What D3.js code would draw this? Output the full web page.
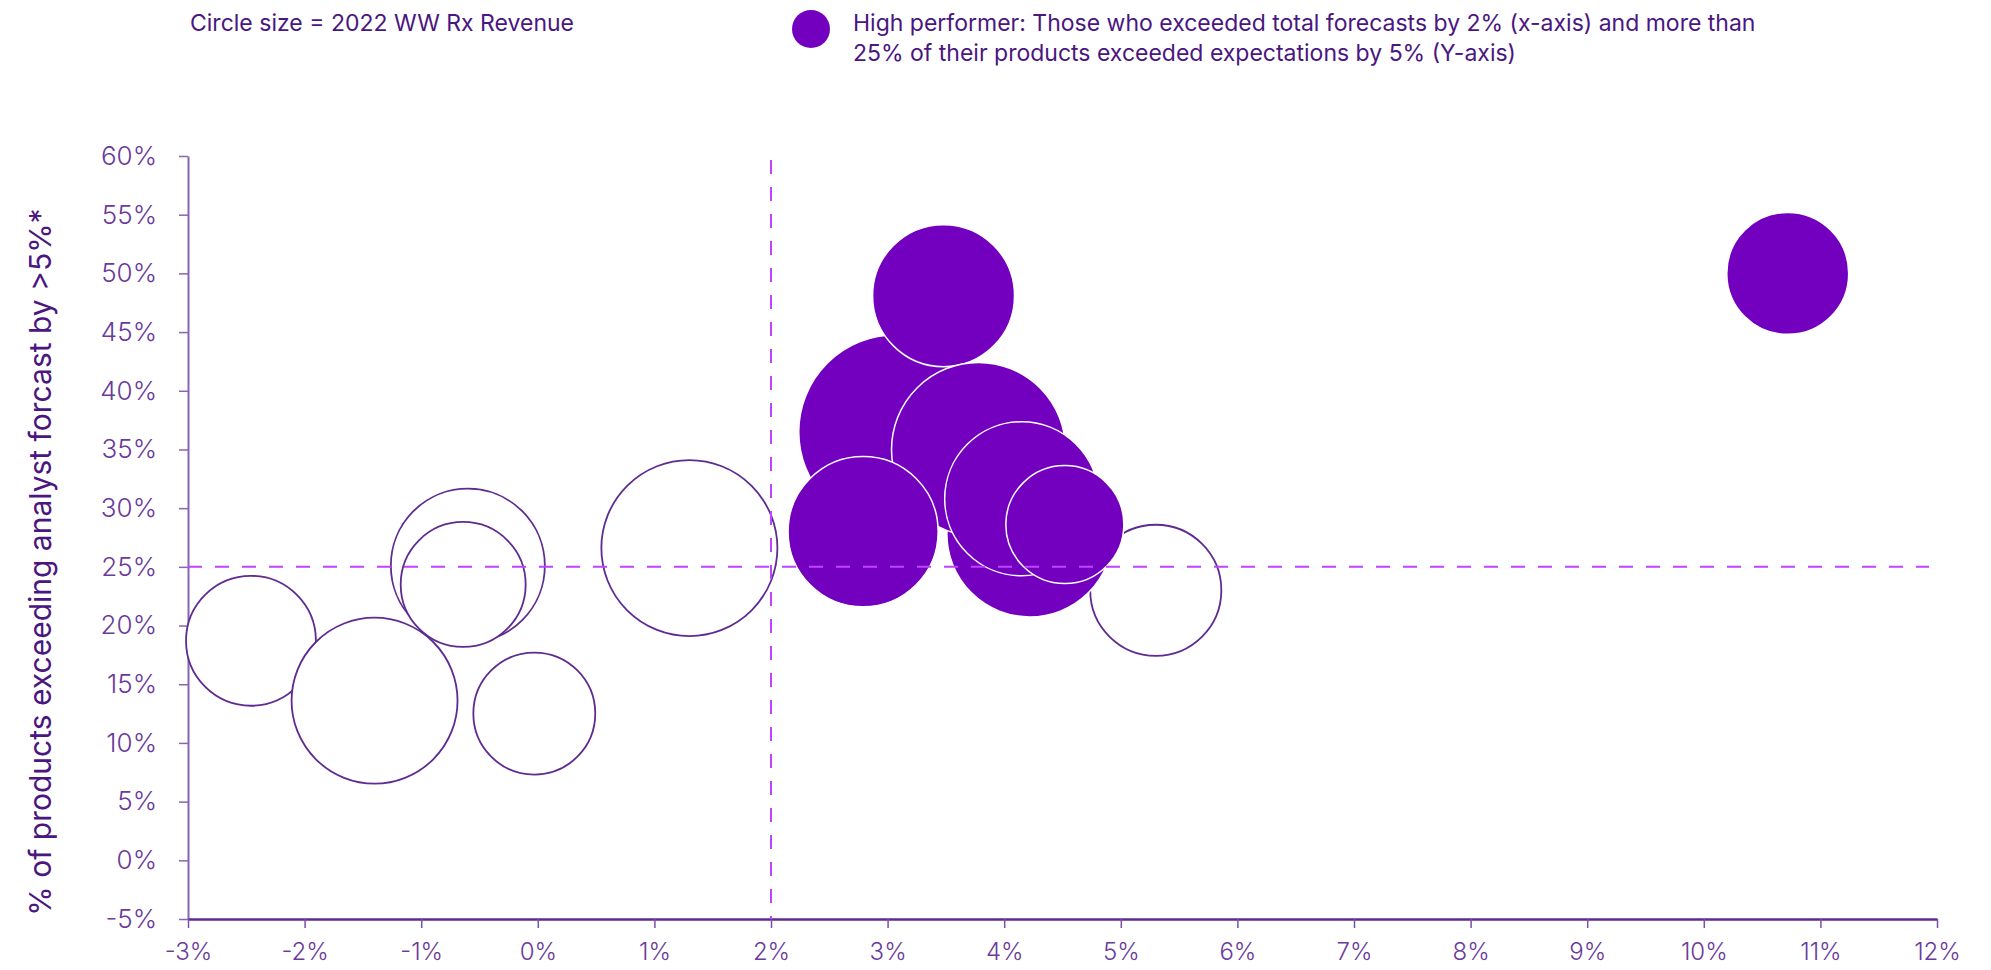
<!DOCTYPE html>
<html>
<head>
<meta charset="utf-8">
<script src="https://cdn.jsdelivr.net/npm/d3@7"></script>
<style>
  body { margin: 0; background: #fff; }
  svg text { font-family: Inter, "Open Sans", sans-serif; }
</style>
</head>
<body>
<div id="chart"></div>
<script>
"use strict";
let width = 1991;
let height = 970;

// data (x = % vs total forecast, y = % of products beating forecast, size = 2022 WW Rx revenue)
let xValues = [-2.46, -1.40, -0.60, -0.64, -0.03, 1.30, 5.30, 3.07, 4.22, 3.48, 3.78, 2.79, 4.15, 4.52, 10.72];
let yValues = [18.7, 13.6, 25.1, 23.5, 12.5, 26.6, 23.0, 36.5, 27.8, 48.1, 35.0, 28.0, 30.8, 28.6, 50.0];
let revenue = [26.9, 43.9, 37.8, 24.9, 23.7, 49.4, 27.4, 60.0, 43.9, 32.1, 48.3, 35.9, 37.8, 22.2, 23.7];
let highPerformer = [false, false, false, false, false, false, false, true, true, true, true, true, true, true, true];

let xTicks = [-3, -2, -1, 0, 1, 2, 3, 4, 5, 6, 7, 8, 9, 10, 11, 12];
let yTicks = [-5, 0, 5, 10, 15, 20, 25, 30, 35, 40, 45, 50, 55, 60];
let xThreshold = 2;
let yThreshold = 25;

let sizeNote = "Circle size = 2022 WW Rx Revenue";
let legendLines = ["High performer: Those who exceeded total forecasts by 2% (x-axis) and more than",
                   "25% of their products exceeded expectations by 5% (Y-axis)"];
let yTitle = "% of products exceeding analyst forcast by >5%*";

let plotLeft = 188, plotRight = 1937, plotTop = 156, plotBottom = 919;

let points = xValues.map(function(d, i) {
    return {x: d, y: yValues[i], rev: revenue[i], high: highPerformer[i]};
});

let xScale = d3.scaleLinear().domain([-3, 12]).range([plotLeft, plotRight]);
let yScale = d3.scaleLinear().domain([-5, 60]).range([plotBottom, plotTop]);
let rScale = d3.scaleSqrt().domain([0, 60]).range([0, 97]);

let svg = d3.select("#chart").append("svg")
    .attr("width", width)
    .attr("height", height);

// header
svg.append("text")
    .attr("x", 190).attr("y", 31)
    .attr("font-size", "23px")
    .attr("fill", "#4a1680")
    .text(sizeNote);

svg.append("circle")
    .attr("cx", 811).attr("cy", 29).attr("r", 19)
    .attr("fill", "#7400bf");

svg.selectAll(".legendLine")
    .data(legendLines)
    .enter()
    .append("text")
    .attr("class", "legendLine")
    .attr("x", 853)
    .attr("y", function(d, i) { return 31 + i * 30; })
    .attr("font-size", "23px")
    .attr("fill", "#4a1680")
    .text(function(d) { return d; });

// axes
let xAxis = d3.axisBottom(xScale).tickValues(xTicks).tickSize(9).tickSizeOuter(0)
    .tickFormat(function(d) { return d + "%"; });
let yAxis = d3.axisLeft(yScale).tickValues(yTicks).tickSize(9).tickSizeOuter(0)
    .tickFormat(function(d) { return d + "%"; });

let gy = svg.append("g")
    .attr("transform", "translate(" + plotLeft + ",0)")
    .call(yAxis);
gy.select(".domain").attr("stroke", "#8a64b0").attr("stroke-width", 2);
gy.selectAll(".tick line").attr("stroke", "#8a64b0").attr("stroke-width", 1.5);
gy.selectAll(".tick text")
    .attr("x", -31)
    .attr("font-size", "26px")
    .attr("font-weight", 300)
    .attr("font-family", "Inter, sans-serif")
    .attr("fill", "#6a3a9c");

let gx = svg.append("g")
    .attr("transform", "translate(0," + plotBottom + ")")
    .call(xAxis);
gx.select(".domain").attr("stroke", "#5e2b90").attr("stroke-width", 2.5);
gx.selectAll(".tick line").attr("stroke", "#7a50a5").attr("stroke-width", 1.5);
gx.selectAll(".tick text")
    .attr("y", 24)
    .attr("font-size", "24px")
    .attr("font-weight", 300)
    .attr("font-family", "Inter, sans-serif")
    .attr("fill", "#6a3a9c");

// y axis title
svg.append("text")
    .attr("transform", "translate(51," + 562 + ") rotate(-90)")
    .attr("text-anchor", "middle")
    .attr("font-size", "30px")
    .attr("fill", "#4a1680")
    .text(yTitle);

// bubbles: open ones first, then high performers on top
let openPts = points.filter(function(d) { return !d.high; });
let highPts = points.filter(function(d) { return d.high; });

svg.selectAll(".open")
    .data(openPts)
    .enter()
    .append("circle")
    .attr("class", "open")
    .attr("cx", function(d) { return xScale(d.x); })
    .attr("cy", function(d) { return yScale(d.y); })
    .attr("r", function(d) { return rScale(d.rev); })
    .attr("fill", "#fff")
    .attr("stroke", "#5e2b90")
    .attr("stroke-width", 1.8);

svg.selectAll(".high")
    .data(highPts)
    .enter()
    .append("circle")
    .attr("class", "high")
    .attr("cx", function(d) { return xScale(d.x); })
    .attr("cy", function(d) { return yScale(d.y); })
    .attr("r", function(d) { return rScale(d.rev); })
    .attr("fill", "#7400bf")
    .attr("stroke", "#fff")
    .attr("stroke-width", 1.5);

// threshold lines
svg.append("line")
    .attr("x1", xScale(xThreshold)).attr("x2", xScale(xThreshold))
    .attr("y1", 160).attr("y2", plotBottom)
    .attr("stroke", "#c043ff")
    .attr("stroke-width", 2)
    .attr("stroke-dasharray", "14,13");

svg.append("line")
    .attr("x1", plotLeft).attr("x2", 1929)
    .attr("y1", yScale(yThreshold)).attr("y2", yScale(yThreshold))
    .attr("stroke", "#c043ff")
    .attr("stroke-width", 2)
    .attr("stroke-dasharray", "14,13");
</script>
</body>
</html>
